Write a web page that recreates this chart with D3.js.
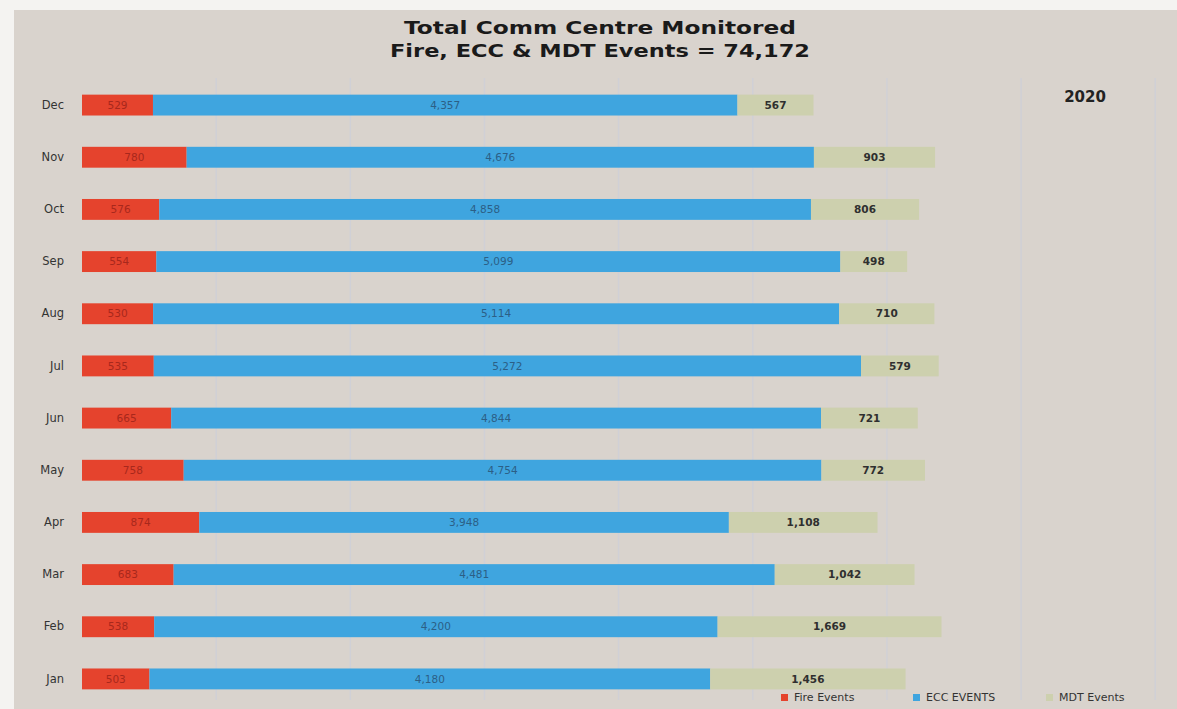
<!DOCTYPE html>
<html><head><meta charset="utf-8">
<script src="https://cdn.jsdelivr.net/npm/d3@7"></script>
<style>body{margin:0;background:#f4f3f1;}svg{display:block;}</style>
</head><body>
<svg id="c" width="1177" height="709"></svg>
<script>
const months = ["Dec","Nov","Oct","Sep","Aug","Jul","Jun","May","Apr","Mar","Feb","Jan"];
const fireEvents = [529,780,576,554,530,535,665,758,874,683,538,503];
const eccEvents = [4357,4676,4858,5099,5114,5272,4844,4754,3948,4481,4200,4180];
const mdtEvents = [567,903,806,498,710,579,721,772,1108,1042,1669,1456];
const seriesNames = ["Fire Events","ECC EVENTS","MDT Events"];
const seriesColors = ["#e5432d","#3fa5df","#cdd0ae"];
const labelColors = ["#a8281c","#2c5f86","#2f2f2f"];
const gridTicks = [1000,2000,3000,4000,5000,6000,7000,8000];

const svg = d3.select("#c");
const W = 1177, H = 709;
svg.append("rect").attr("x",14).attr("y",10).attr("width",W-14).attr("height",H-10).attr("fill","#d9d3cd");

const x = d3.scaleLinear().domain([0,8000]).range([82,82+8000*0.13415]);
const y = d3.scaleBand().domain(months).range([79,705]).paddingInner(0.6).paddingOuter(0.3);

// gridlines
svg.append("g").selectAll("line").data(gridTicks).join("line")
  .attr("x1",d=>x(d)).attr("x2",d=>x(d)).attr("y1",78).attr("y2",700)
  .attr("stroke","#d0d0d6").attr("stroke-width",1.5);

const data = months.map((m,i)=>({m, vals:[fireEvents[i],eccEvents[i],mdtEvents[i]]}));
const stacked = [];
data.forEach(d=>{
  let acc=0;
  d.vals.forEach((v,k)=>{ stacked.push({m:d.m,k,v,x0:acc,x1:acc+v}); acc+=v; });
});

svg.append("g").selectAll("rect").data(stacked).join("rect")
  .attr("x",d=>x(d.x0)).attr("width",d=>x(d.x1)-x(d.x0))
  .attr("y",d=>y(d.m)).attr("height",y.bandwidth())
  .attr("fill",d=>seriesColors[d.k]);

const fmt = d3.format(",");
svg.append("g").selectAll("text").data(stacked).join("text")
  .attr("x",d=>(x(d.x0)+x(d.x1))/2).attr("y",d=>y(d.m)+y.bandwidth()/2)
  .attr("dy","0.35em").attr("text-anchor","middle")
  .attr("font-family","DejaVu Sans, Verdana, sans-serif").attr("font-size",10.5)
  .attr("font-weight",d=>d.k===2?"bold":"normal")
  .attr("fill",d=>labelColors[d.k])
  .text(d=>fmt(d.v));

// month axis
const yAxis = d3.axisLeft(y).tickSize(0).tickPadding(0);
const ga = svg.append("g").attr("transform","translate(64,0)").call(yAxis);
ga.select(".domain").remove();
ga.selectAll("text").attr("font-family","DejaVu Sans, Verdana, sans-serif").attr("font-size",11.5).attr("fill","#333");

// title
const title = svg.append("g").attr("font-family","DejaVu Sans, Verdana, sans-serif").attr("font-weight","bold").attr("font-size",18).attr("fill","#1a1a1a").attr("text-anchor","middle");
title.append("text").attr("x",600).attr("y",34).attr("textLength",392).attr("lengthAdjust","spacingAndGlyphs").text("Total Comm Centre Monitored");
title.append("text").attr("x",600).attr("y",57).attr("textLength",420).attr("lengthAdjust","spacingAndGlyphs").text("Fire, ECC & MDT Events = 74,172");

svg.append("text").attr("x",1085).attr("y",102).attr("text-anchor","middle")
  .attr("font-family","DejaVu Sans, Verdana, sans-serif").attr("font-weight","bold").attr("font-size",15).attr("fill","#222").text("2020");

// legend
const legX = [781,913,1046];
const lg = svg.append("g").selectAll("g").data(seriesNames).join("g")
  .attr("transform",(d,i)=>`translate(${legX[i]},697)`);
lg.append("rect").attr("x",0).attr("y",-3).attr("width",7).attr("height",7).attr("fill",(d,i)=>seriesColors[i]);
lg.append("text").attr("x",13).attr("dy","0.35em").attr("font-family","DejaVu Sans, Verdana, sans-serif").attr("font-size",11).attr("fill","#333").text(d=>d);
</script>
</body></html>
